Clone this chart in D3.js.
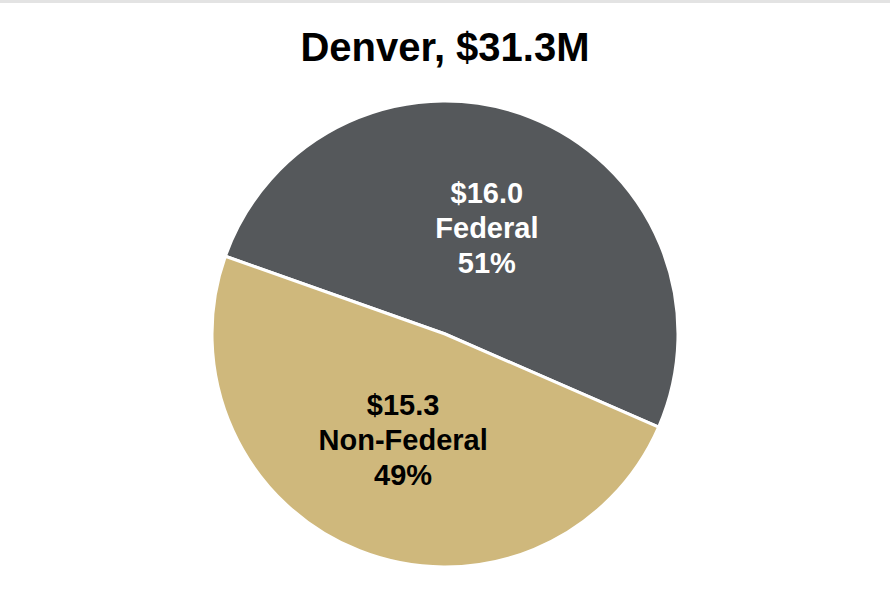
<!DOCTYPE html>
<html>
    <head>
        <title>Denver Pie</title>
        <script src="https://d3js.org/d3.v7.min.js"></script>
        <meta charset="UTF-8">
        <style>
            body { margin: 0; background: #fff; }
        </style>
    </head>
    <body>
        <script>
            var w = 890;
            var h = 590;

            var title = "Denver, $31.3M";
            var names = ["Federal", "Non-Federal"];
            var amounts = [16.0, 15.3];
            var percents = ["51%", "49%"];
            var colors = ["#55585b", "#cfb87c"];
            var labelColors = ["#ffffff", "#000000"];

            var cx = 445, cy = 334, radius = 233;

            var svg = d3.select("body")
                    .append("svg")
                    .attr("width", w)
                    .attr("height", h);

            // thin grey rule along the top edge
            svg.append("rect")
                    .attr("x", 0)
                    .attr("y", 0)
                    .attr("width", w)
                    .attr("height", 3)
                    .attr("fill", "#e3e3e3");

            svg.append("text")
                    .attr("x", w / 2)
                    .attr("y", 61)
                    .attr("text-anchor", "middle")
                    .style("font-family", "'Liberation Sans', Arial, sans-serif")
                    .style("font-weight", "bold")
                    .style("font-size", "40px")
                    .text(title);

            var start = -70.5 * Math.PI / 180;
            var pie = d3.pie()
                    .sort(null)
                    .startAngle(start)
                    .endAngle(start + 2 * Math.PI);
            var arcs = pie(amounts);

            var arc = d3.arc().innerRadius(0).outerRadius(radius);

            var g = svg.append("g")
                    .attr("transform", "translate(" + cx + "," + cy + ")");

            g.selectAll("path")
                    .data(arcs)
                    .enter()
                    .append("path")
                    .attr("d", arc)
                    .attr("fill", function (d, i) {
                        return colors[i];
                    })
                    .attr("stroke", "#ffffff")
                    .attr("stroke-width", 3);

            var labelArc = d3.arc().innerRadius(radius * 0.49).outerRadius(radius * 0.49);

            var labels = g.selectAll("text.lbl")
                    .data(arcs)
                    .enter()
                    .append("text")
                    .attr("class", "lbl")
                    .attr("text-anchor", "middle")
                    .attr("fill", function (d, i) {
                        return labelColors[i];
                    })
                    .style("font-family", "'Liberation Sans', Arial, sans-serif")
                    .style("font-weight", "bold")
                    .style("font-size", "29px")
                    .attr("transform", function (d, i) {
                        var c = labelArc.centroid(d);
                        return "translate(" + c[0] + "," + c[1] + ")";
                    });

            labels.each(function (d, i) {
                var t = d3.select(this);
                var lines = ["$" + amounts[i].toFixed(1), names[i], percents[i]];
                lines.forEach(function (s, k) {
                    t.append("tspan")
                            .attr("x", 0)
                            .attr("y", (k - 1) * 35 + 10)
                            .text(s);
                });
            });
        </script>
    </body>
</html>
